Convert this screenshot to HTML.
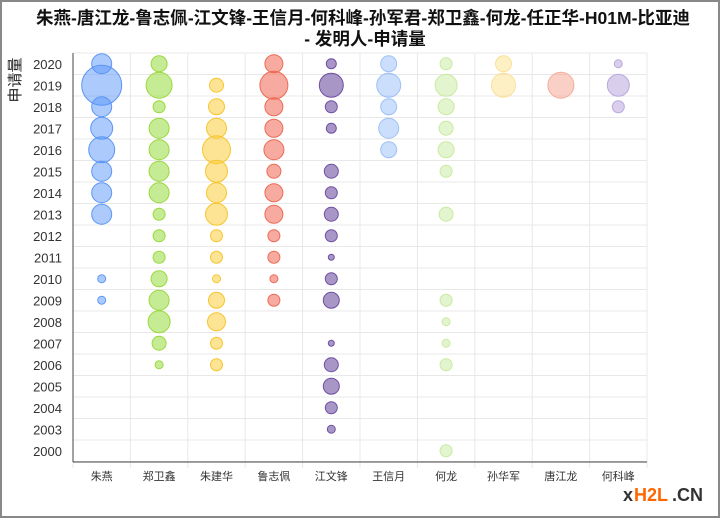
<!DOCTYPE html>
<html><head><meta charset="utf-8"><style>
body{margin:0;width:720px;height:518px;overflow:hidden;background:#fff;font-family:"Liberation Sans","Noto Sans CJK SC",sans-serif}
</style></head><body>
<svg id="s" width="720" height="518" xmlns="http://www.w3.org/2000/svg" font-family="Liberation Sans, Noto Sans CJK SC, sans-serif">
<rect x="1" y="1" width="718" height="516" fill="#fff" stroke="#888" stroke-width="2"/>
<text x="363" y="24" text-anchor="middle" font-size="17.5" font-weight="bold" fill="#111" textLength="654" lengthAdjust="spacingAndGlyphs">朱燕-唐江龙-鲁志佩-江文锋-王信月-何科峰-孙军君-郑卫鑫-何龙-任正华-H01M-比亚迪</text>
<text x="365" y="45" text-anchor="middle" font-size="17.5" font-weight="bold" fill="#111">- 发明人-申请量</text>
<text transform="translate(20,80) rotate(-90)" text-anchor="middle" font-size="15" fill="#222">申请量</text>
<g id="grid"></g>
<g id="bub"></g>
<line x1="73" y1="53" x2="73" y2="462" stroke="#444"/>
<line x1="73" y1="462" x2="647" y2="462" stroke="#444"/>
<g id="lab" font-size="13" fill="#333"></g>
<text x="623" y="501" font-size="18" font-weight="bold" fill="#333">x</text>
<text x="634" y="501" font-size="18" font-weight="bold" fill="#f60">H2L</text>
<text x="672" y="501" font-size="18" font-weight="bold" fill="#333">.CN</text>
</svg>
<script>
var years=[2020,2019,2018,2017,2016,2015,2014,2013,2012,2011,2010,2009,2008,2007,2006,2005,2004,2003,2000];
var names=["朱燕","郑卫鑫","朱建华","鲁志佩","江文锋","王信月","何龙","孙华军","唐江龙","何科峰"];
var x0=73,y0=53,cw=57.4,rh=21.5,g="",l="";
for(var i=0;i<=19;i++){g+='<line x1="73" x2="647" y1="'+(y0+i*rh)+'" y2="'+(y0+i*rh)+'" stroke="#e8e8e8"/>';}
for(var j=0;j<=10;j++){g+='<line y1="53" y2="468" x1="'+(x0+j*cw)+'" x2="'+(x0+j*cw)+'" stroke="#e8e8e8"/>';}
years.forEach(function(y,i){l+='<text x="62" y="'+(y0+i*rh+rh/2+5)+'" text-anchor="end">'+y+'</text>';});
names.forEach(function(n,j){l+='<text x="'+(x0+j*cw+cw/2)+'" y="480" text-anchor="middle" font-size="11">'+n+'</text>';});
var cols=[["rgba(90,150,250,0.5)","#5b96f5"],["rgba(150,220,60,0.55)","#9ad83c"],["rgba(250,205,60,0.55)","#f7c52e"],["rgba(240,100,80,0.55)","#ee6a55"],["rgba(110,80,160,0.6)","#6f4fa3"],["rgba(140,185,250,0.45)","#9ec0f7"],["rgba(200,235,160,0.5)","#c9eaa0"],["rgba(252,225,140,0.5)","#fbe09a"],["rgba(245,160,140,0.5)","#f5ad9c"],["rgba(185,165,220,0.55)","#baa8dd"]];
var d=[
{2020:10,2019:20,2018:10,2017:11,2016:13,2015:10,2014:10,2013:10,2010:4,2009:4},
{2020:8,2019:13,2018:6,2017:10,2016:10,2015:10,2014:10,2013:6,2012:6,2011:6,2010:8,2009:10,2008:11,2007:7,2006:4},
{2019:7,2018:8,2017:10,2016:14,2015:11,2014:10,2013:11,2012:6,2011:6,2010:4,2009:8,2008:9,2007:6,2006:6},
{2020:9,2019:14,2018:9,2017:9,2016:10,2015:7,2014:9,2013:9,2012:6,2011:6,2010:4,2009:6},
{2020:5,2019:12,2018:6,2017:5,2015:7,2014:6,2013:7,2012:6,2011:3,2010:6,2009:8,2007:3,2006:7,2005:8,2004:6,2003:4},
{2020:8,2019:12,2018:8,2017:10,2016:8},
{2020:6,2019:11,2018:8,2017:7,2016:8,2015:6,2013:7,2009:6,2008:4,2007:4,2006:6,2000:6},
{2020:8,2019:12},
{2019:13},
{2020:4,2019:11,2018:6}];
var b="";
d.forEach(function(o,j){var cx=x0+j*cw+cw/2;years.forEach(function(y,i){if(o[y]){b+='<circle cx="'+cx+'" cy="'+(y0+i*rh+rh/2)+'" r="'+o[y]+'" fill="'+cols[j][0]+'" stroke="'+cols[j][1]+'" stroke-width="1"/>';}});});
document.getElementById("grid").innerHTML=g;
document.getElementById("lab").innerHTML=l;
document.getElementById("bub").innerHTML=b;
</script>
</body></html>
